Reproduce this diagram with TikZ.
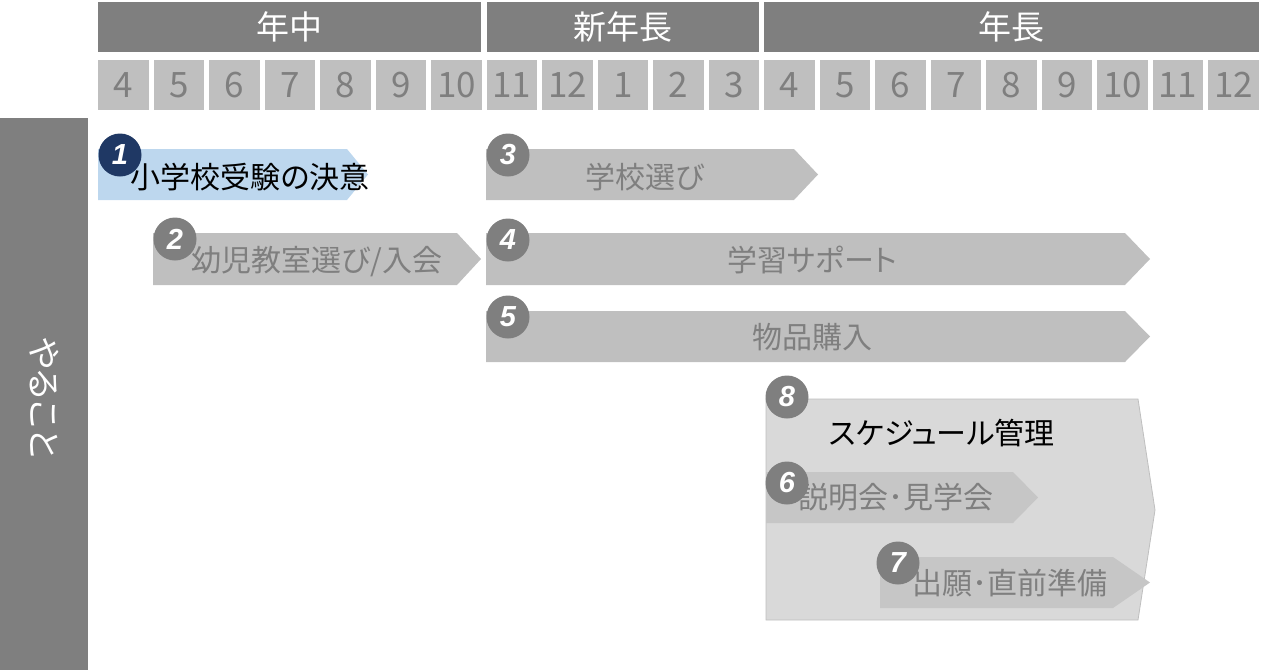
\documentclass[tikz,border=0pt]{standalone}
\usepackage{fontspec}
\setmainfont[RawFeature=+palt]{Noto Sans CJK JP}
\newfontfamily\badgefont{Liberation Sans}
\definecolor{headgray}{HTML}{7F7F7F}
\definecolor{cellgray}{HTML}{BFBFBF}
\definecolor{panelgray}{HTML}{D9D9D9}
\definecolor{subgray}{HTML}{C6C6C6}
\definecolor{paleblue}{HTML}{BDD7EE}
\definecolor{navy}{HTML}{1F3864}
\tikzset{
  year/.style={rectangle, fill=headgray, minimum height=50pt, inner sep=0pt, text=white, font=\fontsize{33}{33}\selectfont},
  month/.style={rectangle, fill=cellgray, minimum width=50.5pt, minimum height=50pt, inner sep=0pt, text=headgray, font=\fontsize{35}{35}\selectfont},
  badge/.style={circle, fill=headgray, minimum size=43pt, inner sep=0pt, text=white, font=\badgefont\bfseries\itshape\fontsize{29}{29}\selectfont},
  tasktext/.style={text=headgray, inner sep=0pt, font=\fontsize{30}{30}\selectfont},
}
\begin{document}
\begin{tikzpicture}[x=1pt,y=-1pt]
        \useasboundingbox (0,0) rectangle (1280,670);

        % Year headers
        \node[year, minimum width=383pt, anchor=north west] (nenchu) at (98,2) {年中};
        \node[year, minimum width=272.5pt, anchor=north west] (shinnencho) at (486.5,2) {新年長};
        \node[year, minimum width=494.5pt, anchor=north west] (nencho) at (764,2) {年長};

        % Month cells
        \foreach \m [count=\i from 0] in {4,5,6,7,8,9,10,11,12,1,2,3,4,5,6,7,8,9,10,11,12}
            \node[month, anchor=north west] (m\i) at ({98+55.5*\i},60) {\m};

        % Side bar
        \fill[headgray] (0,118) rectangle (88,670);
        \node[text=white, rotate=-90, font=\fontsize{34}{34}\selectfont] (yarukoto) at (44,398) {やること};

        % Task 1 (decision)
        \fill[paleblue] (98,149) -- (347,149) -- (368,174.5) -- (347,200) -- (98,200) -- cycle;
        \node[inner sep=0pt, font=\fontsize{30}{30}\selectfont] (t1) at (250,177) {小学校受験の決意};
        \node[badge, fill=navy] (b1) at (120,155) {1};

        % Task 2
        \fill[cellgray] (153,233) -- (457,233) -- (481,259) -- (457,285) -- (153,285) -- cycle;
        \node[tasktext] (t2) at (317,262) {幼児教室選び/入会};
        \node[badge] (b2) at (175,239) {2};

        % Task 3
        \fill[cellgray] (486,149) -- (794,149) -- (818,174.5) -- (794,200) -- (486,200) -- cycle;
        \node[tasktext] (t3) at (645,177) {学校選び};
        \node[badge] (b3) at (508,155) {3};

        % Task 4
        \fill[cellgray] (486,233) -- (1125,233) -- (1150,259) -- (1125,285) -- (486,285) -- cycle;
        \node[tasktext] (t4) at (812,260) {学習サポート};
        \node[badge] (b4) at (508,240) {4};

        % Task 5
        \fill[cellgray] (486,311) -- (1125,311) -- (1150,336.5) -- (1125,362) -- (486,362) -- cycle;
        \node[tasktext] (t5) at (812,337) {物品購入};
        \node[badge] (b5) at (508,317) {5};

        % Task 8 (schedule panel)
        \filldraw[fill=panelgray, draw=cellgray, line width=0.8pt] (766,399) -- (1138,399) -- (1155,510) -- (1138,620) -- (766,620) -- cycle;
        \node[inner sep=0pt, font=\fontsize{30}{30}\selectfont] (t8) at (942,433) {スケジュール管理};
        \node[badge] (b8) at (787,397) {8};

        % Task 6
        \fill[subgray] (766,472) -- (1013,472) -- (1038,497.5) -- (1013,523) -- (766,523) -- cycle;
        \node[tasktext] (t6) at (896,497) {説明会･見学会};
        \node[badge] (b6) at (787,483) {6};

        % Task 7
        \fill[subgray] (880,557) -- (1113,557) -- (1150,582.5) -- (1113,608) -- (880,608) -- cycle;
        \node[tasktext] (t7) at (1010,583) {出願･直前準備};
        \node[badge] (b7) at (898,563) {7};

    \end{tikzpicture}
\end{document}
